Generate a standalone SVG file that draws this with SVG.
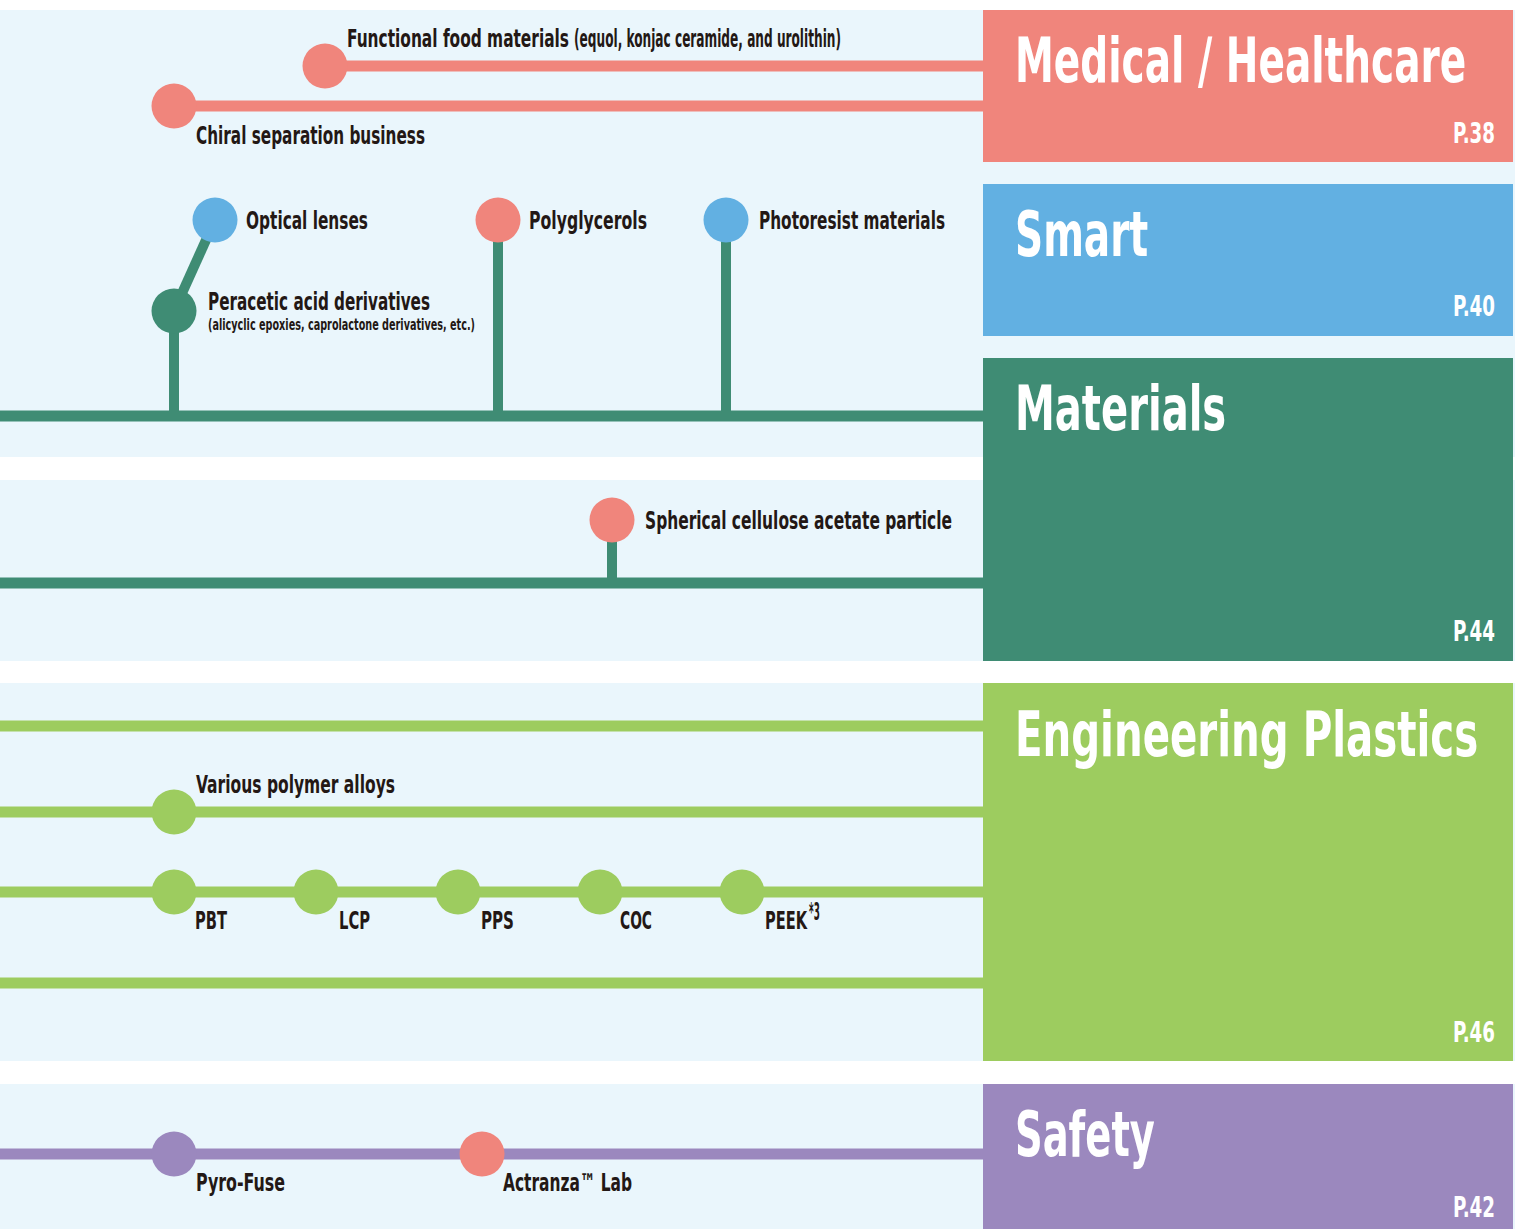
<svg xmlns="http://www.w3.org/2000/svg" width="1515" height="1229" viewBox="0 0 1515 1229">
<style>
.bg{fill:#EAF6FC}
.t{font-family:"DejaVu Sans Condensed","Liberation Sans Narrow","Roboto",sans-serif;font-weight:bold;fill:#231815;font-size:24px}
.s{font-size:15px}
.ttl{font-family:"DejaVu Sans Condensed","Liberation Sans Narrow","Roboto",sans-serif;font-weight:bold;fill:#ffffff;font-size:62px}
.pg{font-family:"DejaVu Sans Condensed","Liberation Sans Narrow","Roboto",sans-serif;font-weight:bold;fill:#ffffff;font-size:29px}
.pink{fill:#F0857C}.blue{fill:#62B0E2}.dgreen{fill:#3F8C74}.lgreen{fill:#9DCC5F}.purple{fill:#9B88BE}
.lp{stroke:#F0857C;stroke-width:11;fill:none}
.lg{stroke:#3F8C74;stroke-width:11;fill:none}
.sg{stroke:#3F8C74;stroke-width:10;fill:none}
.ll{stroke:#9DCC5F;stroke-width:11;fill:none}
.lv{stroke:#9B88BE;stroke-width:11;fill:none}
</style>
<rect x="0" y="0" width="1515" height="1229" fill="#ffffff"/>
<g id="backgrounds">
<rect class="bg" x="0" y="10" width="1515" height="447"/>
<rect class="bg" x="0" y="480" width="1515" height="181"/>
<rect class="bg" x="0" y="683" width="1515" height="378"/>
<rect class="bg" x="0" y="1084" width="1515" height="145"/>
</g>
<g id="connectors">
<line class="lp" x1="325" y1="66" x2="985" y2="66"/>
<line class="lp" x1="174" y1="106" x2="985" y2="106"/>
<line class="lg" x1="0" y1="416" x2="985" y2="416"/>
<line class="sg" x1="174" y1="311" x2="174" y2="416"/>
<line class="sg" x1="174" y1="311" x2="215" y2="220" stroke-width="11"/>
<line class="sg" x1="498" y1="220" x2="498" y2="416"/>
<line class="sg" x1="726" y1="220" x2="726" y2="416"/>
<line class="lg" x1="0" y1="583" x2="985" y2="583"/>
<line class="sg" x1="612" y1="520" x2="612" y2="583"/>
<line class="ll" x1="0" y1="726" x2="985" y2="726"/>
<line class="ll" x1="0" y1="812" x2="985" y2="812"/>
<line class="ll" x1="0" y1="892" x2="985" y2="892"/>
<line class="ll" x1="0" y1="983" x2="985" y2="983"/>
<line class="lv" x1="0" y1="1154" x2="985" y2="1154"/>
</g>
<g id="node-functional-food">
<circle class="pink" cx="325" cy="66" r="22.5"/>
<text class="t" transform="translate(347,47) scale(0.6,1)" x="0" y="0" textLength="370" lengthAdjust="spacingAndGlyphs">Functional food materials</text>
<text class="t" x="574" y="47" font-size="17" textLength="267" lengthAdjust="spacingAndGlyphs">(equol, konjac ceramide, and urolithin)</text>
</g>
<g id="node-chiral">
<circle class="pink" cx="174" cy="106" r="22.5"/>
<text class="t" x="196" y="144" textLength="229" lengthAdjust="spacingAndGlyphs">Chiral separation business</text>
</g>
<g id="node-optical">
<circle class="blue" cx="215" cy="220" r="22.5"/>
<text class="t" x="246" y="229" textLength="122" lengthAdjust="spacingAndGlyphs">Optical lenses</text>
</g>
<g id="node-polyglycerols">
<circle class="pink" cx="498" cy="220" r="22.5"/>
<text class="t" x="529" y="229" textLength="118" lengthAdjust="spacingAndGlyphs">Polyglycerols</text>
</g>
<g id="node-photoresist">
<circle class="blue" cx="726" cy="220" r="22.5"/>
<text class="t" x="759" y="229" textLength="186" lengthAdjust="spacingAndGlyphs">Photoresist materials</text>
</g>
<g id="node-peracetic">
<circle class="dgreen" cx="174" cy="311" r="22.5"/>
<text class="t" x="208" y="310" textLength="222" lengthAdjust="spacingAndGlyphs">Peracetic acid derivatives</text>
<text class="t s" x="208" y="330" textLength="267" lengthAdjust="spacingAndGlyphs">(alicyclic epoxies, caprolactone derivatives, etc.)</text>
</g>
<g id="node-spherical">
<circle class="pink" cx="612" cy="520" r="22.5"/>
<text class="t" x="645" y="529" textLength="307" lengthAdjust="spacingAndGlyphs">Spherical cellulose acetate particle</text>
</g>
<g id="node-alloys">
<circle class="lgreen" cx="174" cy="812" r="22.5"/>
<text class="t" x="196" y="793" textLength="199" lengthAdjust="spacingAndGlyphs">Various polymer alloys</text>
</g>
<g id="node-pbt">
<circle class="lgreen" cx="174" cy="892" r="22.5"/>
<text class="t" x="195" y="929" textLength="32" lengthAdjust="spacingAndGlyphs">PBT</text>
</g>
<g id="node-lcp">
<circle class="lgreen" cx="316" cy="892" r="22.5"/>
<text class="t" x="339" y="929" textLength="31" lengthAdjust="spacingAndGlyphs">LCP</text>
</g>
<g id="node-pps">
<circle class="lgreen" cx="458" cy="892" r="22.5"/>
<text class="t" x="481" y="929" textLength="33" lengthAdjust="spacingAndGlyphs">PPS</text>
</g>
<g id="node-coc">
<circle class="lgreen" cx="600" cy="892" r="22.5"/>
<text class="t" x="620" y="929" textLength="32" lengthAdjust="spacingAndGlyphs">COC</text>
</g>
<g id="node-peek">
<circle class="lgreen" cx="742" cy="892" r="22.5"/>
<text class="t" transform="translate(765,929) scale(0.6,1)" x="0" y="0" textLength="70" lengthAdjust="spacingAndGlyphs">PEEK</text>
<text class="t" transform="translate(809,920) scale(0.6,1)" x="0" y="0" font-size="12" textLength="18" lengthAdjust="spacingAndGlyphs">*3</text>
</g>
<g id="node-pyrofuse">
<circle class="purple" cx="174" cy="1154" r="22.5"/>
<text class="t" x="196" y="1191" textLength="89" lengthAdjust="spacingAndGlyphs">Pyro-Fuse</text>
</g>
<g id="node-actranza">
<circle class="pink" cx="482" cy="1154" r="22.5"/>
<text class="t" x="503" y="1191" textLength="129" lengthAdjust="spacingAndGlyphs">Actranza™ Lab</text>
</g>
<g id="box-medical">
<rect class="pink" x="983" y="10" width="530" height="152"/>
<text class="ttl" transform="translate(1015,82) scale(0.6,1)" x="0" y="0" textLength="752" lengthAdjust="spacingAndGlyphs">Medical / Healthcare</text>
<text class="pg" x="1453" y="143" textLength="42" lengthAdjust="spacingAndGlyphs">P.38</text>
</g>
<g id="box-smart">
<rect class="blue" x="983" y="184" width="530" height="152"/>
<text class="ttl" transform="translate(1015,256) scale(0.6,1)" x="0" y="0" textLength="222" lengthAdjust="spacingAndGlyphs">Smart</text>
<text class="pg" x="1453" y="316" textLength="42" lengthAdjust="spacingAndGlyphs">P.40</text>
</g>
<g id="box-materials">
<rect class="dgreen" x="983" y="358" width="530" height="303"/>
<text class="ttl" transform="translate(1015,430) scale(0.6,1)" x="0" y="0" textLength="352" lengthAdjust="spacingAndGlyphs">Materials</text>
<text class="pg" x="1453" y="641" textLength="42" lengthAdjust="spacingAndGlyphs">P.44</text>
</g>
<g id="box-engineering">
<rect class="lgreen" x="983" y="683" width="530" height="378"/>
<text class="ttl" transform="translate(1015,756) scale(0.6,1)" x="0" y="0" textLength="772" lengthAdjust="spacingAndGlyphs">Engineering Plastics</text>
<text class="pg" x="1453" y="1042" textLength="42" lengthAdjust="spacingAndGlyphs">P.46</text>
</g>
<g id="box-safety">
<rect class="purple" x="983" y="1084" width="530" height="145"/>
<text class="ttl" transform="translate(1015,1156) scale(0.6,1)" x="0" y="0" textLength="233" lengthAdjust="spacingAndGlyphs">Safety</text>
<text class="pg" x="1453" y="1217" textLength="42" lengthAdjust="spacingAndGlyphs">P.42</text>
</g>
</svg>
